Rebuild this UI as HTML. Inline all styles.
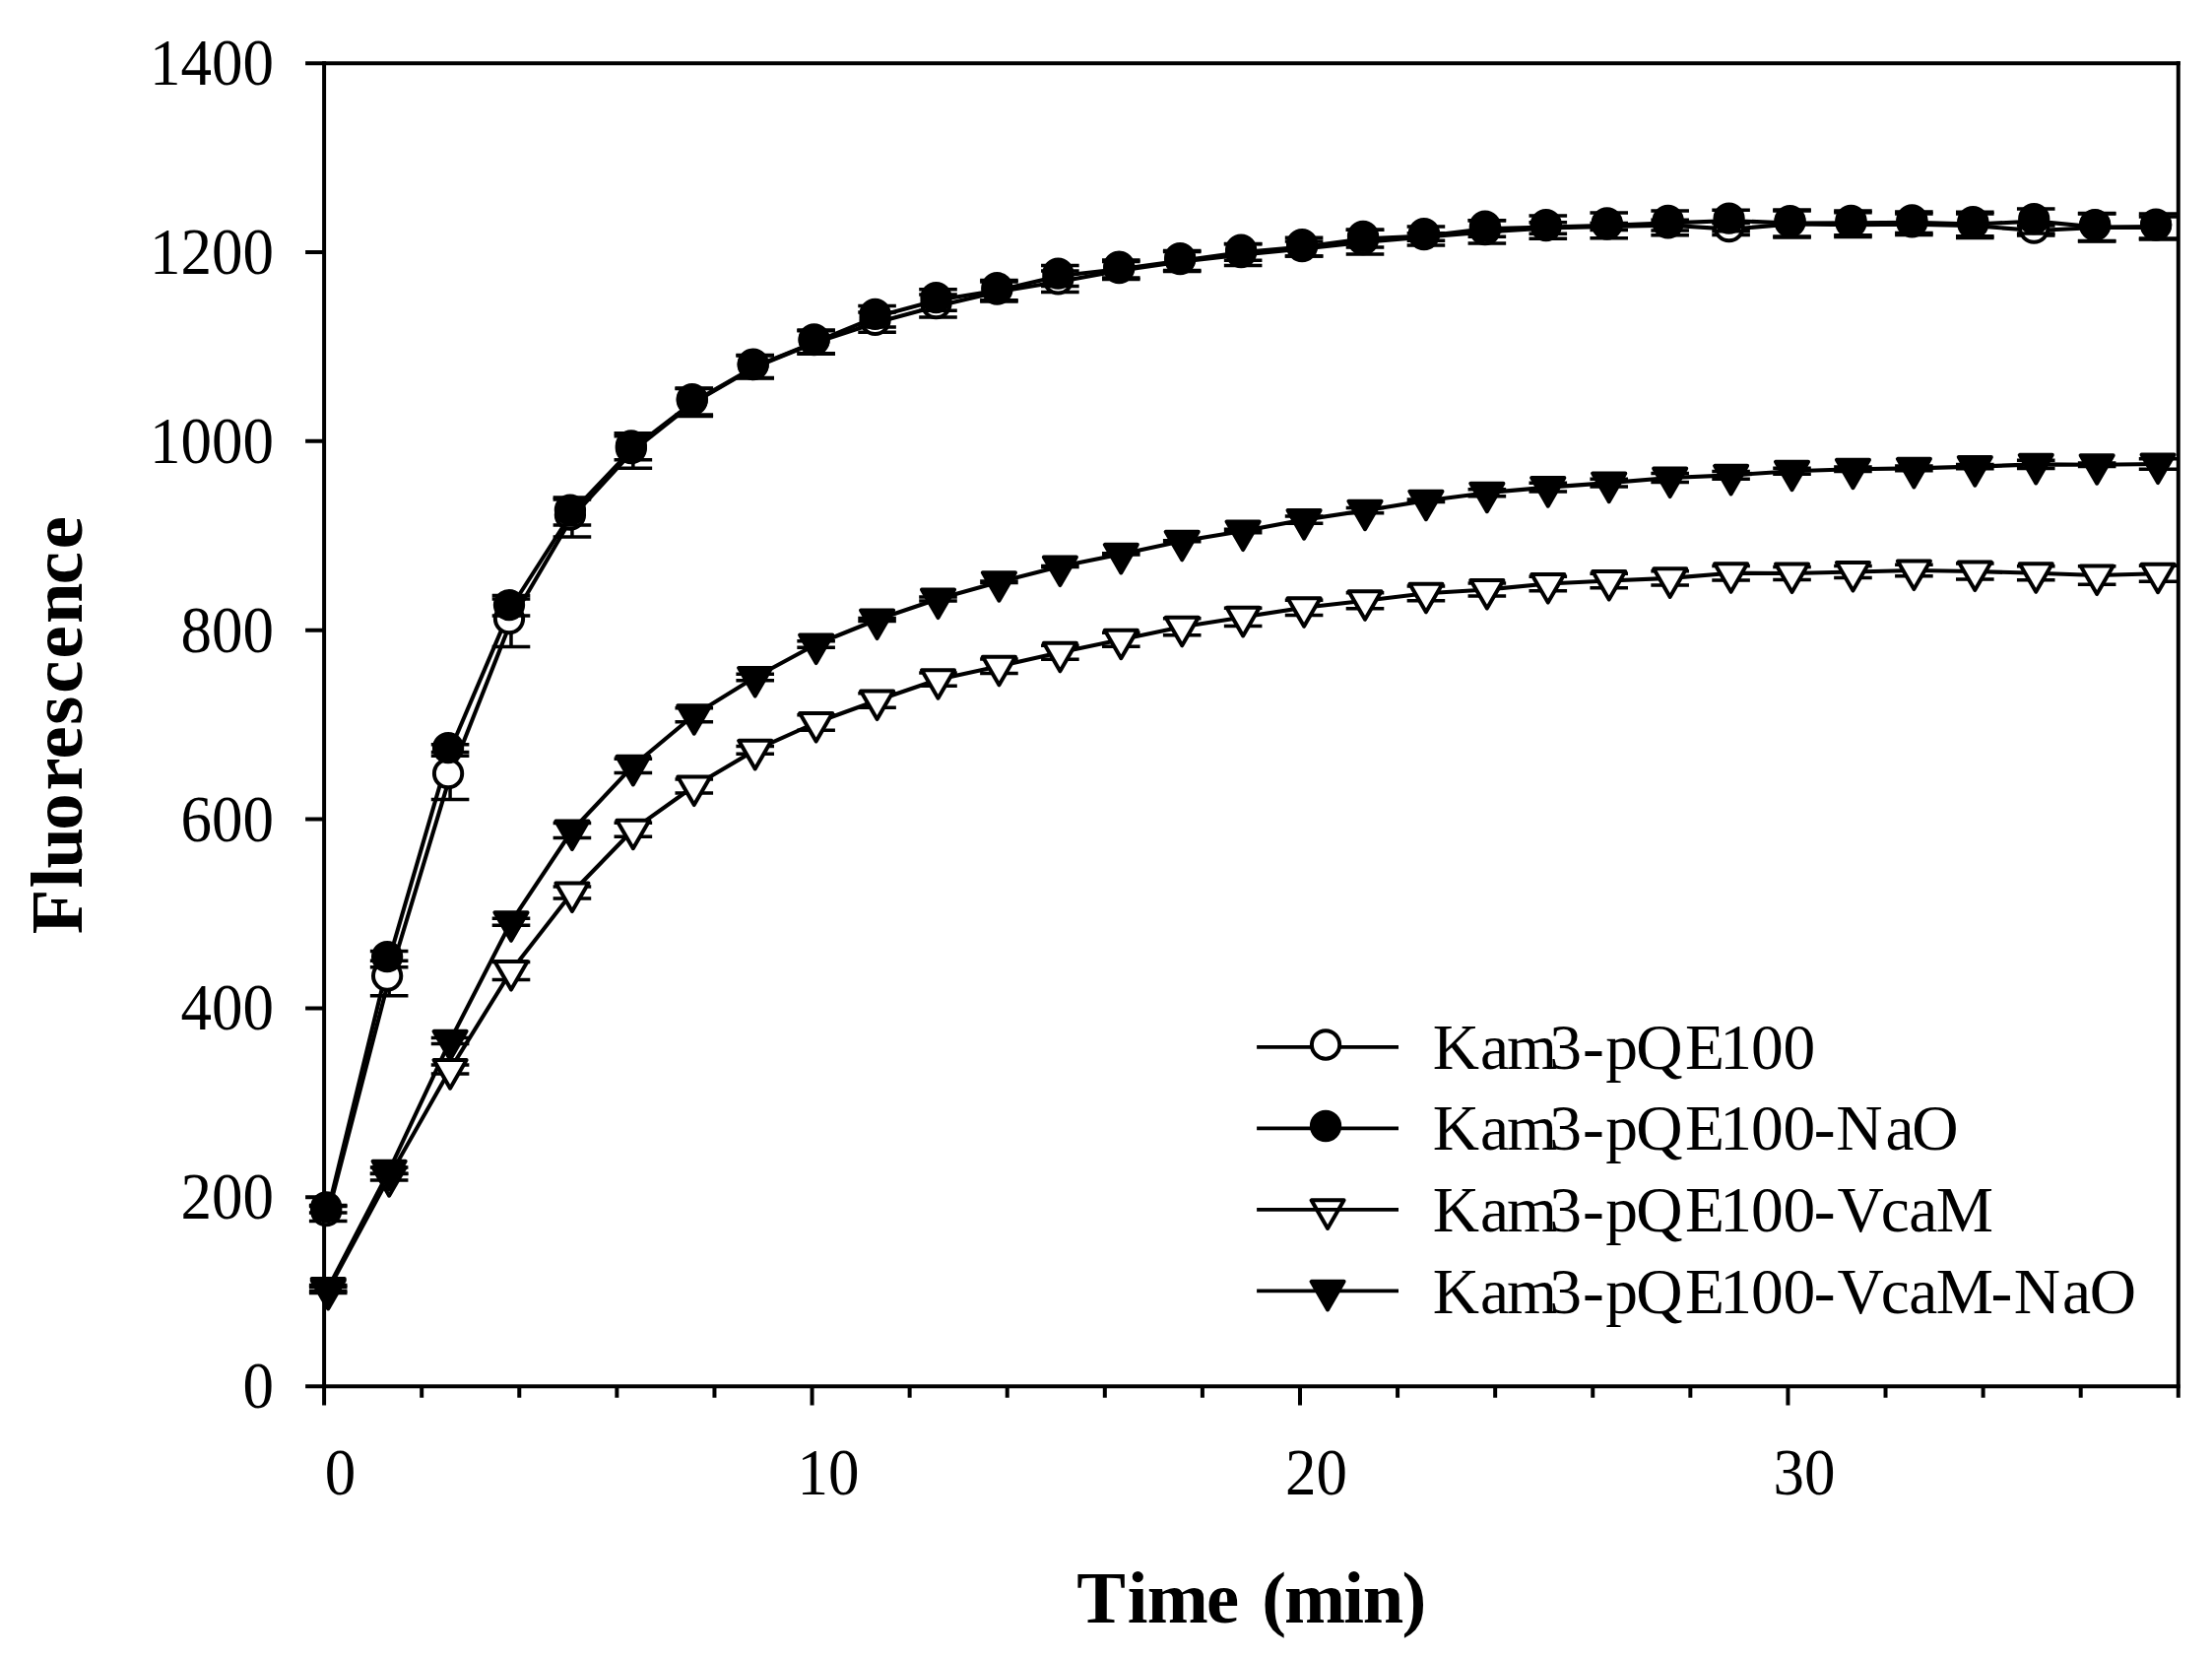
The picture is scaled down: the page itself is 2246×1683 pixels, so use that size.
<!DOCTYPE html>
<html lang="en"><head><meta charset="utf-8"><title>Fluorescence vs Time</title>
<style>html,body{margin:0;padding:0;background:#fff}svg{display:block}text{font-family:"Liberation Serif","Times New Roman",serif;fill:#000}.tk{font-size:67px}.lg{font-size:65.5px}.ti{font-size:74.5px;font-weight:bold}</style></head><body>
<svg width="2246" height="1683" viewBox="0 0 2246 1683">
<rect width="2246" height="1683" fill="#fff"/>
<g stroke="#000" stroke-width="4" fill="none" stroke-linecap="butt">
<path d="M329.1 62.15V1426.55"/>
<path d="M2211.8 62.15V1418.85"/>
<path d="M310.1 64.15H2213.8"/>
<path d="M310.1 1407.15H2213.8"/>
<path d="M310.1 1215.29H329.1M310.1 1023.44H329.1M310.1 831.58H329.1M310.1 639.72H329.1M310.1 447.86H329.1M310.1 256.01H329.1"/>
<path d="M428.19 1407.15V1418.85M527.28 1407.15V1418.85M626.37 1407.15V1418.85M725.46 1407.15V1418.85M824.55 1407.15V1426.55M923.64 1407.15V1418.85M1022.73 1407.15V1418.85M1121.82 1407.15V1418.85M1220.91 1407.15V1418.85M1319.99 1407.15V1426.55M1419.08 1407.15V1418.85M1518.17 1407.15V1418.85M1617.26 1407.15V1418.85M1716.35 1407.15V1418.85M1815.44 1407.15V1426.55M1914.53 1407.15V1418.85M2013.62 1407.15V1418.85M2112.71 1407.15V1418.85"/>
</g>
<text class="tk" transform="translate(278 1429.15) scale(0.94 1)" text-anchor="end">0</text>
<text class="tk" transform="translate(278 1237.29) scale(0.94 1)" text-anchor="end">200</text>
<text class="tk" transform="translate(278 1045.44) scale(0.94 1)" text-anchor="end">400</text>
<text class="tk" transform="translate(278 853.58) scale(0.94 1)" text-anchor="end">600</text>
<text class="tk" transform="translate(278 661.72) scale(0.94 1)" text-anchor="end">800</text>
<text class="tk" transform="translate(278 469.86) scale(0.94 1)" text-anchor="end">1000</text>
<text class="tk" transform="translate(278 278.01) scale(0.94 1)" text-anchor="end">1200</text>
<text class="tk" transform="translate(278 86.15) scale(0.94 1)" text-anchor="end">1400</text>
<text class="tk" transform="translate(345.6 1517.3) scale(0.94 1)" text-anchor="middle">0</text>
<text class="tk" transform="translate(841.05 1517.3) scale(0.94 1)" text-anchor="middle">10</text>
<text class="tk" transform="translate(1336.49 1517.3) scale(0.94 1)" text-anchor="middle">20</text>
<text class="tk" transform="translate(1831.94 1517.3) scale(0.94 1)" text-anchor="middle">30</text>
<text class="ti" x="1093.19 1144.83 1164.76 1225.01 1270 1281.21 1304.11 1364.33 1383.8 1423.43" y="1646.8">Time (min)</text>
<text class="ti" transform="translate(82.6 947.1) rotate(-90)" x="-1.16 45.56 65.52 104.33 144.67 176.66 211.39 243.32 278.61 314 353.82 389.81" y="0">Fluorescence</text>
<polyline points="333.2,1231.5 395.13,993 457.06,787.6 518.99,630.5 580.92,525 642.85,457.5 704.78,408.5 766.71,372.5 828.64,347.5 890.57,327.2 952.5,310.5 1014.43,296 1076.36,285.7 1138.29,274.5 1200.22,265.5 1262.15,258.5 1324.08,252.5 1386.01,245.6 1447.94,240.5 1509.87,235.4 1571.8,231.5 1633.73,230 1695.66,228.7 1757.59,232.6 1819.52,227.5 1881.45,228.2 1943.38,227.8 2005.31,229.3 2067.24,234 2129.17,231 2191.1,231" fill="none" stroke="#000" stroke-width="4.1" stroke-linejoin="round"/>
<polyline points="333.2,1227.8 395.13,973.6 457.06,761.5 518.99,616.5 580.92,520 642.85,454.8 704.78,407.5 766.71,372 828.64,346.9 890.57,321.3 952.5,304.5 1014.43,294.6 1076.36,280 1138.29,273 1200.22,264.5 1262.15,256 1324.08,250.6 1386.01,242.2 1447.94,239.5 1509.87,232 1571.8,230.6 1633.73,228.9 1695.66,226.4 1757.59,224 1819.52,226.6 1881.45,226.4 1943.38,225.8 2005.31,227.5 2067.24,224.6 2129.17,230.5 2191.1,230" fill="none" stroke="#000" stroke-width="4.1" stroke-linejoin="round"/>
<polyline points="333.2,1309.4 395.13,1194.6 457.06,1085.6 518.99,985.5 580.92,906 642.85,842.2 704.78,798 766.71,761.4 828.64,733.5 890.57,711 952.5,689.7 1014.43,676.3 1076.36,662.3 1138.29,649.2 1200.22,636.3 1262.15,626.4 1324.08,616.8 1386.01,609.8 1447.94,602.3 1509.87,598.5 1571.8,592.5 1633.73,589.5 1695.66,586.9 1757.59,581.8 1819.52,582 1881.45,580.5 1943.38,579 2005.31,580 2067.24,581.8 2129.17,584 2191.1,582.2" fill="none" stroke="#000" stroke-width="4.1" stroke-linejoin="round"/>
<polyline points="333.2,1307.5 395.13,1188.2 457.06,1056.4 518.99,935.8 580.92,843 642.85,777.4 704.78,725.7 766.71,687.5 828.64,654 890.57,629 952.5,608 1014.43,590.7 1076.36,575 1138.29,562.4 1200.22,549.3 1262.15,539 1324.08,527.6 1386.01,518.2 1447.94,508.2 1509.87,500.2 1571.8,494.6 1633.73,490.1 1695.66,485 1757.59,482.4 1819.52,478.2 1881.45,476.2 1943.38,475.4 2005.31,473.6 2067.24,471.4 2129.17,471.7 2191.1,471" fill="none" stroke="#000" stroke-width="4.1" stroke-linejoin="round"/>
<path d="M333.2 1223.5V1239.5M313.9 1223.5H352.5M313.9 1239.5H352.5M395.13 975.3V1010.7M375.83 975.3H414.43M375.83 1010.7H414.43M457.06 763.6V811.6M437.76 763.6H476.36M437.76 811.6H476.36M518.99 604.5V656.5M499.69 604.5H538.29M499.69 656.5H538.29M580.92 505V545M561.62 505H600.22M561.62 545H600.22M642.85 439.8V475.2M623.55 439.8H662.15M623.55 475.2H662.15M704.78 394.5V422.5M685.48 394.5H724.08M685.48 422.5H724.08M766.71 360.9V384.1M747.41 360.9H786.01M747.41 384.1H786.01M828.64 335.7V359.3M809.34 335.7H847.94M809.34 359.3H847.94M890.57 317.1V337.3M871.27 317.1H909.87M871.27 337.3H909.87M952.5 299.1V321.9M933.2 299.1H971.8M933.2 321.9H971.8M1014.43 286V306M995.13 286H1033.73M995.13 306H1033.73M1076.36 275V296.4M1057.06 275H1095.66M1057.06 296.4H1095.66M1138.29 265.5V283.5M1118.99 265.5H1157.59M1118.99 283.5H1157.59M1200.22 255.5V275.5M1180.92 255.5H1219.52M1180.92 275.5H1219.52M1262.15 247.5V269.5M1242.85 247.5H1281.45M1242.85 269.5H1281.45M1324.08 245V260M1304.78 245H1343.38M1304.78 260H1343.38M1386.01 233.3V257.9M1366.71 233.3H1405.31M1366.71 257.9H1405.31M1447.94 236.7V244.3M1428.64 236.7H1467.24M1428.64 244.3H1467.24M1509.87 223.7V247.1M1490.57 223.7H1529.17M1490.57 247.1H1529.17M1571.8 225.8V237.2M1552.5 225.8H1591.1M1552.5 237.2H1591.1M1633.73 226.5V233.5M1614.43 226.5H1653.03M1614.43 233.5H1653.03M1695.66 223.3V234.1M1676.36 223.3H1714.96M1676.36 234.1H1714.96M1757.59 226.6V238.6M1738.29 226.6H1776.89M1738.29 238.6H1776.89M1819.52 214V241M1800.22 214H1838.82M1800.22 241H1838.82M1881.45 215.8V240.6M1862.15 215.8H1900.75M1862.15 240.6H1900.75M1943.38 217V238.6M1924.08 217H1962.68M1924.08 238.6H1962.68M2005.31 217V241.6M1986.01 217H2024.61M1986.01 241.6H2024.61M2067.24 229V239M2047.94 229H2086.54M2047.94 239H2086.54M2129.17 217V245M2109.87 217H2148.47M2109.87 245H2148.47M2191.1 220V242M2171.8 220H2210.4M2171.8 242H2210.4" fill="none" stroke="#000" stroke-width="3.5"/>
<circle cx="331.2" cy="1229.1" r="14.15" fill="#fff" stroke="#000" stroke-width="4"/>
<circle cx="393.13" cy="990.6" r="14.15" fill="#fff" stroke="#000" stroke-width="4"/>
<circle cx="455.06" cy="785.2" r="14.15" fill="#fff" stroke="#000" stroke-width="4"/>
<circle cx="516.99" cy="628.1" r="14.15" fill="#fff" stroke="#000" stroke-width="4"/>
<circle cx="578.92" cy="522.6" r="14.15" fill="#fff" stroke="#000" stroke-width="4"/>
<circle cx="640.85" cy="455.1" r="14.15" fill="#fff" stroke="#000" stroke-width="4"/>
<circle cx="702.78" cy="406.1" r="14.15" fill="#fff" stroke="#000" stroke-width="4"/>
<circle cx="764.71" cy="370.1" r="14.15" fill="#fff" stroke="#000" stroke-width="4"/>
<circle cx="826.64" cy="345.1" r="14.15" fill="#fff" stroke="#000" stroke-width="4"/>
<circle cx="888.57" cy="324.8" r="14.15" fill="#fff" stroke="#000" stroke-width="4"/>
<circle cx="950.5" cy="308.1" r="14.15" fill="#fff" stroke="#000" stroke-width="4"/>
<circle cx="1012.43" cy="293.6" r="14.15" fill="#fff" stroke="#000" stroke-width="4"/>
<circle cx="1074.36" cy="283.3" r="14.15" fill="#fff" stroke="#000" stroke-width="4"/>
<circle cx="1136.29" cy="272.1" r="14.15" fill="#fff" stroke="#000" stroke-width="4"/>
<circle cx="1198.22" cy="263.1" r="14.15" fill="#fff" stroke="#000" stroke-width="4"/>
<circle cx="1260.15" cy="256.1" r="14.15" fill="#fff" stroke="#000" stroke-width="4"/>
<circle cx="1322.08" cy="250.1" r="14.15" fill="#fff" stroke="#000" stroke-width="4"/>
<circle cx="1384.01" cy="243.2" r="14.15" fill="#fff" stroke="#000" stroke-width="4"/>
<circle cx="1445.94" cy="238.1" r="14.15" fill="#fff" stroke="#000" stroke-width="4"/>
<circle cx="1507.87" cy="233" r="14.15" fill="#fff" stroke="#000" stroke-width="4"/>
<circle cx="1569.8" cy="229.1" r="14.15" fill="#fff" stroke="#000" stroke-width="4"/>
<circle cx="1631.73" cy="227.6" r="14.15" fill="#fff" stroke="#000" stroke-width="4"/>
<circle cx="1693.66" cy="226.3" r="14.15" fill="#fff" stroke="#000" stroke-width="4"/>
<circle cx="1755.59" cy="230.2" r="14.15" fill="#fff" stroke="#000" stroke-width="4"/>
<circle cx="1817.52" cy="225.1" r="14.15" fill="#fff" stroke="#000" stroke-width="4"/>
<circle cx="1879.45" cy="225.8" r="14.15" fill="#fff" stroke="#000" stroke-width="4"/>
<circle cx="1941.38" cy="225.4" r="14.15" fill="#fff" stroke="#000" stroke-width="4"/>
<circle cx="2003.31" cy="226.9" r="14.15" fill="#fff" stroke="#000" stroke-width="4"/>
<circle cx="2065.24" cy="231.6" r="14.15" fill="#fff" stroke="#000" stroke-width="4"/>
<circle cx="2127.17" cy="228.6" r="14.15" fill="#fff" stroke="#000" stroke-width="4"/>
<circle cx="2189.1" cy="228.6" r="14.15" fill="#fff" stroke="#000" stroke-width="4"/>
<path d="M333.2 1224.5V1231.1M313.9 1224.5H352.5M313.9 1231.1H352.5M395.13 965.4V981.8M375.83 965.4H414.43M375.83 981.8H414.43M457.06 755.8V767.2M437.76 755.8H476.36M437.76 767.2H476.36M518.99 608V625M499.69 608H538.29M499.69 625H538.29M580.92 507.1V532.9M561.62 507.1H600.22M561.62 532.9H600.22M642.85 442.8V466.8M623.55 442.8H662.15M623.55 466.8H662.15M704.78 394V421M685.48 394H724.08M685.48 421H724.08M766.71 360.4V383.6M747.41 360.4H786.01M747.41 383.6H786.01M828.64 335.1V358.7M809.34 335.1H847.94M809.34 358.7H847.94M890.57 310.5V332.1M871.27 310.5H909.87M871.27 332.1H909.87M952.5 293.7V315.3M933.2 293.7H971.8M933.2 315.3H971.8M1014.43 284.5V304.7M995.13 284.5H1033.73M995.13 304.7H1033.73M1076.36 269.5V290.5M1057.06 269.5H1095.66M1057.06 290.5H1095.66M1138.29 264.1V281.9M1118.99 264.1H1157.59M1118.99 281.9H1157.59M1200.22 254.6V274.4M1180.92 254.6H1219.52M1180.92 274.4H1219.52M1262.15 247.8V264.2M1242.85 247.8H1281.45M1242.85 264.2H1281.45M1324.08 241.3V259.9M1304.78 241.3H1343.38M1304.78 259.9H1343.38M1386.01 233.3V251.1M1366.71 233.3H1405.31M1366.71 251.1H1405.31M1447.94 230V249M1428.64 230H1467.24M1428.64 249H1467.24M1509.87 223.7V240.3M1490.57 223.7H1529.17M1490.57 240.3H1529.17M1571.8 218.9V242.3M1552.5 218.9H1591.1M1552.5 242.3H1591.1M1633.73 216V241.8M1614.43 216H1653.03M1614.43 241.8H1653.03M1695.66 214V238.8M1676.36 214H1714.96M1676.36 238.8H1714.96M1757.59 213.2V234.8M1738.29 213.2H1776.89M1738.29 234.8H1776.89M1819.52 213.1V240.1M1800.22 213.1H1838.82M1800.22 240.1H1838.82M1881.45 214V238.8M1862.15 214H1900.75M1862.15 238.8H1900.75M1943.38 215V236.6M1924.08 215H1962.68M1924.08 236.6H1962.68M2005.31 215.2V239.8M1986.01 215.2H2024.61M1986.01 239.8H2024.61M2067.24 212.1V237.1M2047.94 212.1H2086.54M2047.94 237.1H2086.54M2129.17 216.5V244.5M2109.87 216.5H2148.47M2109.87 244.5H2148.47M2191.1 217V243M2171.8 217H2210.4M2171.8 243H2210.4" fill="none" stroke="#000" stroke-width="3.5"/>
<circle cx="331.2" cy="1225.4" r="14.15" fill="#000" stroke="#000" stroke-width="4"/>
<circle cx="393.13" cy="971.2" r="14.15" fill="#000" stroke="#000" stroke-width="4"/>
<circle cx="455.06" cy="759.1" r="14.15" fill="#000" stroke="#000" stroke-width="4"/>
<circle cx="516.99" cy="614.1" r="14.15" fill="#000" stroke="#000" stroke-width="4"/>
<circle cx="578.92" cy="517.6" r="14.15" fill="#000" stroke="#000" stroke-width="4"/>
<circle cx="640.85" cy="452.4" r="14.15" fill="#000" stroke="#000" stroke-width="4"/>
<circle cx="702.78" cy="405.1" r="14.15" fill="#000" stroke="#000" stroke-width="4"/>
<circle cx="764.71" cy="369.6" r="14.15" fill="#000" stroke="#000" stroke-width="4"/>
<circle cx="826.64" cy="344.5" r="14.15" fill="#000" stroke="#000" stroke-width="4"/>
<circle cx="888.57" cy="318.9" r="14.15" fill="#000" stroke="#000" stroke-width="4"/>
<circle cx="950.5" cy="302.1" r="14.15" fill="#000" stroke="#000" stroke-width="4"/>
<circle cx="1012.43" cy="292.2" r="14.15" fill="#000" stroke="#000" stroke-width="4"/>
<circle cx="1074.36" cy="277.6" r="14.15" fill="#000" stroke="#000" stroke-width="4"/>
<circle cx="1136.29" cy="270.6" r="14.15" fill="#000" stroke="#000" stroke-width="4"/>
<circle cx="1198.22" cy="262.1" r="14.15" fill="#000" stroke="#000" stroke-width="4"/>
<circle cx="1260.15" cy="253.6" r="14.15" fill="#000" stroke="#000" stroke-width="4"/>
<circle cx="1322.08" cy="248.2" r="14.15" fill="#000" stroke="#000" stroke-width="4"/>
<circle cx="1384.01" cy="239.8" r="14.15" fill="#000" stroke="#000" stroke-width="4"/>
<circle cx="1445.94" cy="237.1" r="14.15" fill="#000" stroke="#000" stroke-width="4"/>
<circle cx="1507.87" cy="229.6" r="14.15" fill="#000" stroke="#000" stroke-width="4"/>
<circle cx="1569.8" cy="228.2" r="14.15" fill="#000" stroke="#000" stroke-width="4"/>
<circle cx="1631.73" cy="226.5" r="14.15" fill="#000" stroke="#000" stroke-width="4"/>
<circle cx="1693.66" cy="224" r="14.15" fill="#000" stroke="#000" stroke-width="4"/>
<circle cx="1755.59" cy="221.6" r="14.15" fill="#000" stroke="#000" stroke-width="4"/>
<circle cx="1817.52" cy="224.2" r="14.15" fill="#000" stroke="#000" stroke-width="4"/>
<circle cx="1879.45" cy="224" r="14.15" fill="#000" stroke="#000" stroke-width="4"/>
<circle cx="1941.38" cy="223.4" r="14.15" fill="#000" stroke="#000" stroke-width="4"/>
<circle cx="2003.31" cy="225.1" r="14.15" fill="#000" stroke="#000" stroke-width="4"/>
<circle cx="2065.24" cy="222.2" r="14.15" fill="#000" stroke="#000" stroke-width="4"/>
<circle cx="2127.17" cy="228.1" r="14.15" fill="#000" stroke="#000" stroke-width="4"/>
<circle cx="2189.1" cy="227.6" r="14.15" fill="#000" stroke="#000" stroke-width="4"/>
<path d="M333.2 1306.4V1312.4M313.9 1306.4H352.5M313.9 1312.4H352.5M395.13 1191.3V1197.9M375.83 1191.3H414.43M375.83 1197.9H414.43M457.06 1081.1V1090.1M437.76 1081.1H476.36M437.76 1090.1H476.36M518.99 976.5V994.5M499.69 976.5H538.29M499.69 994.5H538.29M580.92 900V912M561.62 900H600.22M561.62 912H600.22M642.85 835.2V849.2M623.55 835.2H662.15M623.55 849.2H662.15M704.78 791V805M685.48 791H724.08M685.48 805H724.08M766.71 757.6V765.2M747.41 757.6H786.01M747.41 765.2H786.01M828.64 725.7V741.3M809.34 725.7H847.94M809.34 741.3H847.94M890.57 703.7V718.3M871.27 703.7H909.87M871.27 718.3H909.87M952.5 683.1V696.3M933.2 683.1H971.8M933.2 696.3H971.8M1014.43 669.1V683.5M995.13 669.1H1033.73M995.13 683.5H1033.73M1076.36 655.3V669.3M1057.06 655.3H1095.66M1057.06 669.3H1095.66M1138.29 642.2V656.2M1118.99 642.2H1157.59M1118.99 656.2H1157.59M1200.22 627.8V644.8M1180.92 627.8H1219.52M1180.92 644.8H1219.52M1262.15 617.2V635.6M1242.85 617.2H1281.45M1242.85 635.6H1281.45M1324.08 609.2V624.4M1304.78 609.2H1343.38M1304.78 624.4H1343.38M1386.01 601.8V617.8M1366.71 601.8H1405.31M1366.71 617.8H1405.31M1447.94 594.9V609.7M1428.64 594.9H1467.24M1428.64 609.7H1467.24M1509.87 592.1V604.9M1490.57 592.1H1529.17M1490.57 604.9H1529.17M1571.8 585.2V599.8M1552.5 585.2H1591.1M1552.5 599.8H1591.1M1633.73 582.3V596.7M1614.43 582.3H1653.03M1614.43 596.7H1653.03M1695.66 579.7V594.1M1676.36 579.7H1714.96M1676.36 594.1H1714.96M1757.59 574.6V589M1738.29 574.6H1776.89M1738.29 589H1776.89M1819.52 575.5V588.5M1800.22 575.5H1838.82M1800.22 588.5H1838.82M1881.45 574.5V586.5M1862.15 574.5H1900.75M1862.15 586.5H1900.75M1943.38 573.2V584.8M1924.08 573.2H1962.68M1924.08 584.8H1962.68M2005.31 572.1V587.9M1986.01 572.1H2024.61M1986.01 587.9H2024.61M2067.24 574.8V588.8M2047.94 574.8H2086.54M2047.94 588.8H2086.54M2129.17 574.8V593.2M2109.87 574.8H2148.47M2109.87 593.2H2148.47M2191.1 574.2V590.2M2171.8 574.2H2210.4M2171.8 590.2H2210.4" fill="none" stroke="#000" stroke-width="3.5"/>
<path d="M316.65 1299.87H349.75L333.2 1328.47Z" fill="#fff" stroke="#000" stroke-width="4" stroke-linejoin="round"/>
<path d="M378.58 1185.07H411.68L395.13 1213.67Z" fill="#fff" stroke="#000" stroke-width="4" stroke-linejoin="round"/>
<path d="M440.51 1076.07H473.61L457.06 1104.67Z" fill="#fff" stroke="#000" stroke-width="4" stroke-linejoin="round"/>
<path d="M502.44 975.97H535.54L518.99 1004.57Z" fill="#fff" stroke="#000" stroke-width="4" stroke-linejoin="round"/>
<path d="M564.37 896.47H597.47L580.92 925.07Z" fill="#fff" stroke="#000" stroke-width="4" stroke-linejoin="round"/>
<path d="M626.3 832.67H659.4L642.85 861.27Z" fill="#fff" stroke="#000" stroke-width="4" stroke-linejoin="round"/>
<path d="M688.23 788.47H721.33L704.78 817.07Z" fill="#fff" stroke="#000" stroke-width="4" stroke-linejoin="round"/>
<path d="M750.16 751.87H783.26L766.71 780.47Z" fill="#fff" stroke="#000" stroke-width="4" stroke-linejoin="round"/>
<path d="M812.09 723.97H845.19L828.64 752.57Z" fill="#fff" stroke="#000" stroke-width="4" stroke-linejoin="round"/>
<path d="M874.02 701.47H907.12L890.57 730.07Z" fill="#fff" stroke="#000" stroke-width="4" stroke-linejoin="round"/>
<path d="M935.95 680.17H969.05L952.5 708.77Z" fill="#fff" stroke="#000" stroke-width="4" stroke-linejoin="round"/>
<path d="M997.88 666.77H1030.98L1014.43 695.37Z" fill="#fff" stroke="#000" stroke-width="4" stroke-linejoin="round"/>
<path d="M1059.81 652.77H1092.91L1076.36 681.37Z" fill="#fff" stroke="#000" stroke-width="4" stroke-linejoin="round"/>
<path d="M1121.74 639.67H1154.84L1138.29 668.27Z" fill="#fff" stroke="#000" stroke-width="4" stroke-linejoin="round"/>
<path d="M1183.67 626.77H1216.77L1200.22 655.37Z" fill="#fff" stroke="#000" stroke-width="4" stroke-linejoin="round"/>
<path d="M1245.6 616.87H1278.7L1262.15 645.47Z" fill="#fff" stroke="#000" stroke-width="4" stroke-linejoin="round"/>
<path d="M1307.53 607.27H1340.63L1324.08 635.87Z" fill="#fff" stroke="#000" stroke-width="4" stroke-linejoin="round"/>
<path d="M1369.46 600.27H1402.56L1386.01 628.87Z" fill="#fff" stroke="#000" stroke-width="4" stroke-linejoin="round"/>
<path d="M1431.39 592.77H1464.49L1447.94 621.37Z" fill="#fff" stroke="#000" stroke-width="4" stroke-linejoin="round"/>
<path d="M1493.32 588.97H1526.42L1509.87 617.57Z" fill="#fff" stroke="#000" stroke-width="4" stroke-linejoin="round"/>
<path d="M1555.25 582.97H1588.35L1571.8 611.57Z" fill="#fff" stroke="#000" stroke-width="4" stroke-linejoin="round"/>
<path d="M1617.18 579.97H1650.28L1633.73 608.57Z" fill="#fff" stroke="#000" stroke-width="4" stroke-linejoin="round"/>
<path d="M1679.11 577.37H1712.21L1695.66 605.97Z" fill="#fff" stroke="#000" stroke-width="4" stroke-linejoin="round"/>
<path d="M1741.04 572.27H1774.14L1757.59 600.87Z" fill="#fff" stroke="#000" stroke-width="4" stroke-linejoin="round"/>
<path d="M1802.97 572.47H1836.07L1819.52 601.07Z" fill="#fff" stroke="#000" stroke-width="4" stroke-linejoin="round"/>
<path d="M1864.9 570.97H1898L1881.45 599.57Z" fill="#fff" stroke="#000" stroke-width="4" stroke-linejoin="round"/>
<path d="M1926.83 569.47H1959.93L1943.38 598.07Z" fill="#fff" stroke="#000" stroke-width="4" stroke-linejoin="round"/>
<path d="M1988.76 570.47H2021.86L2005.31 599.07Z" fill="#fff" stroke="#000" stroke-width="4" stroke-linejoin="round"/>
<path d="M2050.69 572.27H2083.79L2067.24 600.87Z" fill="#fff" stroke="#000" stroke-width="4" stroke-linejoin="round"/>
<path d="M2112.62 574.47H2145.72L2129.17 603.07Z" fill="#fff" stroke="#000" stroke-width="4" stroke-linejoin="round"/>
<path d="M2174.55 572.67H2207.65L2191.1 601.27Z" fill="#fff" stroke="#000" stroke-width="4" stroke-linejoin="round"/>
<path d="M333.2 1304.5V1310.5M313.9 1304.5H352.5M313.9 1310.5H352.5M395.13 1184.9V1191.5M375.83 1184.9H414.43M375.83 1191.5H414.43M457.06 1053.4V1059.4M437.76 1053.4H476.36M437.76 1059.4H476.36M518.99 932.3V939.3M499.69 932.3H538.29M499.69 939.3H538.29M580.92 835.4V850.6M561.62 835.4H600.22M561.62 850.6H600.22M642.85 770.2V784.6M623.55 770.2H662.15M623.55 784.6H662.15M704.78 718.7V732.7M685.48 718.7H724.08M685.48 732.7H724.08M766.71 684.3V690.7M747.41 684.3H786.01M747.41 690.7H786.01M828.64 650.8V657.2M809.34 650.8H847.94M809.34 657.2H847.94M890.57 627.6V630.4M871.27 627.6H909.87M871.27 630.4H909.87M952.5 606V610M933.2 606H971.8M933.2 610H971.8M1014.43 589.9V591.5M995.13 589.9H1033.73M995.13 591.5H1033.73M1076.36 574.6V575.4M1057.06 574.6H1095.66M1057.06 575.4H1095.66M1138.29 561.75V563.05M1118.99 561.75H1157.59M1118.99 563.05H1157.59M1200.22 548.8V549.8M1180.92 548.8H1219.52M1180.92 549.8H1219.52M1262.15 537.3V540.7M1242.85 537.3H1281.45M1242.85 540.7H1281.45M1324.08 523.9V531.3M1304.78 523.9H1343.38M1304.78 531.3H1343.38M1386.01 515.55V520.85M1366.71 515.55H1405.31M1366.71 520.85H1405.31M1447.94 506.9V509.5M1428.64 506.9H1467.24M1428.64 509.5H1467.24M1509.87 496.7V503.7M1490.57 496.7H1529.17M1490.57 503.7H1529.17M1571.8 490.2V499M1552.5 490.2H1591.1M1552.5 499H1591.1M1633.73 486.3V493.9M1614.43 486.3H1653.03M1614.43 493.9H1653.03M1695.66 480.4V489.6M1676.36 480.4H1714.96M1676.36 489.6H1714.96M1757.59 478.6V486.2M1738.29 478.6H1776.89M1738.29 486.2H1776.89M1819.52 475.2V481.2M1800.22 475.2H1838.82M1800.22 481.2H1838.82M1881.45 473.9V478.5M1862.15 473.9H1900.75M1862.15 478.5H1900.75M1943.38 473.1V477.7M1924.08 473.1H1962.68M1924.08 477.7H1962.68M2005.31 471.4V475.8M1986.01 471.4H2024.61M1986.01 475.8H2024.61M2067.24 467.2V475.6M2047.94 467.2H2086.54M2047.94 475.6H2086.54M2129.17 469.9V473.5M2109.87 469.9H2148.47M2109.87 473.5H2148.47M2191.1 465.8V476.2M2171.8 465.8H2210.4M2171.8 476.2H2210.4" fill="none" stroke="#000" stroke-width="3.5"/>
<path d="M316.65 1297.97H349.75L333.2 1326.57Z" fill="#000" stroke="#000" stroke-width="4" stroke-linejoin="round"/>
<path d="M378.58 1178.67H411.68L395.13 1207.27Z" fill="#000" stroke="#000" stroke-width="4" stroke-linejoin="round"/>
<path d="M440.51 1046.87H473.61L457.06 1075.47Z" fill="#000" stroke="#000" stroke-width="4" stroke-linejoin="round"/>
<path d="M502.44 926.27H535.54L518.99 954.87Z" fill="#000" stroke="#000" stroke-width="4" stroke-linejoin="round"/>
<path d="M564.37 833.47H597.47L580.92 862.07Z" fill="#000" stroke="#000" stroke-width="4" stroke-linejoin="round"/>
<path d="M626.3 767.87H659.4L642.85 796.47Z" fill="#000" stroke="#000" stroke-width="4" stroke-linejoin="round"/>
<path d="M688.23 716.17H721.33L704.78 744.77Z" fill="#000" stroke="#000" stroke-width="4" stroke-linejoin="round"/>
<path d="M750.16 677.97H783.26L766.71 706.57Z" fill="#000" stroke="#000" stroke-width="4" stroke-linejoin="round"/>
<path d="M812.09 644.47H845.19L828.64 673.07Z" fill="#000" stroke="#000" stroke-width="4" stroke-linejoin="round"/>
<path d="M874.02 619.47H907.12L890.57 648.07Z" fill="#000" stroke="#000" stroke-width="4" stroke-linejoin="round"/>
<path d="M935.95 598.47H969.05L952.5 627.07Z" fill="#000" stroke="#000" stroke-width="4" stroke-linejoin="round"/>
<path d="M997.88 581.17H1030.98L1014.43 609.77Z" fill="#000" stroke="#000" stroke-width="4" stroke-linejoin="round"/>
<path d="M1059.81 565.47H1092.91L1076.36 594.07Z" fill="#000" stroke="#000" stroke-width="4" stroke-linejoin="round"/>
<path d="M1121.74 552.87H1154.84L1138.29 581.47Z" fill="#000" stroke="#000" stroke-width="4" stroke-linejoin="round"/>
<path d="M1183.67 539.77H1216.77L1200.22 568.37Z" fill="#000" stroke="#000" stroke-width="4" stroke-linejoin="round"/>
<path d="M1245.6 529.47H1278.7L1262.15 558.07Z" fill="#000" stroke="#000" stroke-width="4" stroke-linejoin="round"/>
<path d="M1307.53 518.07H1340.63L1324.08 546.67Z" fill="#000" stroke="#000" stroke-width="4" stroke-linejoin="round"/>
<path d="M1369.46 508.67H1402.56L1386.01 537.27Z" fill="#000" stroke="#000" stroke-width="4" stroke-linejoin="round"/>
<path d="M1431.39 498.67H1464.49L1447.94 527.27Z" fill="#000" stroke="#000" stroke-width="4" stroke-linejoin="round"/>
<path d="M1493.32 490.67H1526.42L1509.87 519.27Z" fill="#000" stroke="#000" stroke-width="4" stroke-linejoin="round"/>
<path d="M1555.25 485.07H1588.35L1571.8 513.67Z" fill="#000" stroke="#000" stroke-width="4" stroke-linejoin="round"/>
<path d="M1617.18 480.57H1650.28L1633.73 509.17Z" fill="#000" stroke="#000" stroke-width="4" stroke-linejoin="round"/>
<path d="M1679.11 475.47H1712.21L1695.66 504.07Z" fill="#000" stroke="#000" stroke-width="4" stroke-linejoin="round"/>
<path d="M1741.04 472.87H1774.14L1757.59 501.47Z" fill="#000" stroke="#000" stroke-width="4" stroke-linejoin="round"/>
<path d="M1802.97 468.67H1836.07L1819.52 497.27Z" fill="#000" stroke="#000" stroke-width="4" stroke-linejoin="round"/>
<path d="M1864.9 466.67H1898L1881.45 495.27Z" fill="#000" stroke="#000" stroke-width="4" stroke-linejoin="round"/>
<path d="M1926.83 465.87H1959.93L1943.38 494.47Z" fill="#000" stroke="#000" stroke-width="4" stroke-linejoin="round"/>
<path d="M1988.76 464.07H2021.86L2005.31 492.67Z" fill="#000" stroke="#000" stroke-width="4" stroke-linejoin="round"/>
<path d="M2050.69 461.87H2083.79L2067.24 490.47Z" fill="#000" stroke="#000" stroke-width="4" stroke-linejoin="round"/>
<path d="M2112.62 462.17H2145.72L2129.17 490.77Z" fill="#000" stroke="#000" stroke-width="4" stroke-linejoin="round"/>
<path d="M2174.55 461.47H2207.65L2191.1 490.07Z" fill="#000" stroke="#000" stroke-width="4" stroke-linejoin="round"/>
<path d="M1276.1 1062.9H1420" stroke="#000" stroke-width="3.8" fill="none"/>
<circle cx="1346.05" cy="1060.5" r="14.15" fill="#fff" stroke="#000" stroke-width="4"/>
<path d="M1276.1 1145.4H1420" stroke="#000" stroke-width="3.8" fill="none"/>
<circle cx="1346.05" cy="1143" r="14.15" fill="#000" stroke="#000" stroke-width="4"/>
<path d="M1331.5 1218.37H1364.6L1348.05 1246.97Z" fill="#fff" stroke="#000" stroke-width="4" stroke-linejoin="round"/>
<path d="M1276.1 1227.9H1420" stroke="#000" stroke-width="3.8" fill="none"/>
<path d="M1276.1 1310.4H1420" stroke="#000" stroke-width="3.8" fill="none"/>
<path d="M1331.5 1300.87H1364.6L1348.05 1329.47Z" fill="#000" stroke="#000" stroke-width="4" stroke-linejoin="round"/>
<text class="lg" x="1454.84 1503.06 1530.05 1573.19 1607.01 1630.18 1661.17 1710.93 1746.31 1777.97 1810.47" y="1084.5">Kam3-pQE100</text>
<text class="lg" x="1454.84 1503.06 1530.05 1573.19 1607.01 1630.18 1661.17 1710.93 1746.31 1777.97 1810.47 1841.81 1864.21 1914.51 1941.3" y="1167.3">Kam3-pQE100-NaO</text>
<text class="lg" x="1454.84 1503.06 1530.05 1573.19 1607.01 1630.18 1661.17 1710.93 1746.31 1777.97 1810.47 1841.81 1865.5 1909.82 1938.16 1965.65" y="1250">Kam3-pQE100-VcaM</text>
<text class="lg" x="1454.84 1503.06 1530.05 1573.19 1607.01 1630.18 1661.17 1710.93 1746.31 1777.97 1810.47 1841.81 1865.5 1909.82 1938.16 1965.65 2021.46 2044.81 2094.11 2121.8" y="1332.8">Kam3-pQE100-VcaM-NaO</text>
</svg></body></html>
